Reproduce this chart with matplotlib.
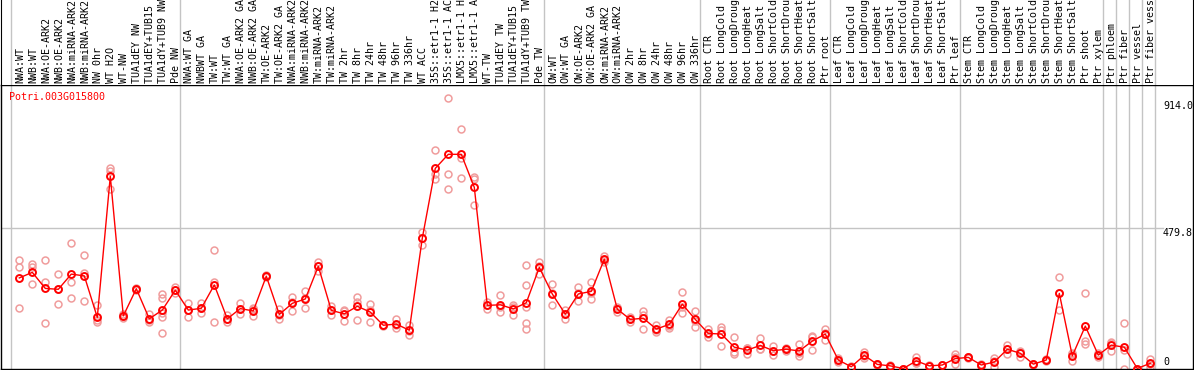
import matplotlib
matplotlib.use("Agg")
import matplotlib.pyplot as plt

labels = [
    "NWA:WT", "NWB:WT", "NWA:OE-ARK2", "NWB:OE-ARK2", "NWA:miRNA-ARK2", "NWB:miRNA-ARK2",
    "NW 0hr", "WT H2O", "WT-NW", "TUA1dEY NW", "TUA1dEY+TUB15 NW", "TUA1dY+TUB9 NW", "Pde NW",
    "NWA:WT GA", "NWBWT GA", "TW:WT", "TW:WT GA", "NWA:OE-ARK2 GA", "NWB:OE-ARK2 GA",
    "TW:OE-ARK2", "TW:OE-ARK2 GA", "NWA:miRNA-ARK2 GA", "NWB:miRNA-ARK2 GA", "TW:miRNA-ARK2",
    "TW:miRNA-ARK2 GA", "TW 2hr", "TW 8hr", "TW 24hr", "TW 48hr", "TW 96hr", "TW 336hr",
    "WT ACC", "35S::etr1-1 H2O", "35S::etr1-1 ACC", "LMX5::etr1-1 H2O", "LMX5::etr1-1 ACC",
    "WT-TW", "TUA1dEY TW", "TUA1dEY+TUB15 TW", "TUA1dY+TUB9 TW", "Pde TW",
    "OW:WT", "OW:WT GA", "OW:OE-ARK2", "OW:OE-ARK2 GA", "OW:miRNA-ARK2", "OW:miRNA-ARK2 GA",
    "OW 2hr", "OW 8hr", "OW 24hr", "OW 48hr", "OW 96hr", "OW 336hr",
    "Root CTR", "Root LongCold", "Root LongDrought", "Root LongHeat", "Root LongSalt",
    "Root ShortCold", "Root ShortDrought", "Root ShortHeat", "Root ShortSalt", "Ptr root",
    "Leaf CTR", "Leaf LongCold", "Leaf LongDrought", "Leaf LongHeat", "Leaf LongSalt",
    "Leaf ShortCold", "Leaf ShortDrought", "Leaf ShortHeat", "Leaf ShortSalt", "Ptr leaf",
    "Stem CTR", "Stem LongCold", "Stem LongDrought", "Stem LongHeat", "Stem LongSalt",
    "Stem ShortCold", "Stem ShortDrought", "Stem ShortHeat", "Stem ShortSalt", "Ptr shoot",
    "Ptr xylem", "Ptr phloem", "Ptr fiber", "Ptr vessel", "Ptr fiber vessel",
]

means = [
    310, 329, 274, 271, 323, 317, 175, 658, 180, 273, 170, 200, 268,
    200, 206, 286, 170, 205, 197, 316, 185, 223, 238, 350, 199, 187, 213, 193, 148, 152, 131,
    446, 685, 733, 733, 620, 216, 218, 204, 225, 346,
    255, 186, 255, 264, 374, 203, 168, 172, 135, 151, 220, 168,
    120, 118, 73, 63, 79, 61, 66, 60, 94, 118,
    29, 6, 45, 14, 9, 0, 26, 9, 12, 34,
    38, 12, 22, 66, 52, 15, 29, 257, 43, 145, 46,
    80, 73, 0, 18,
]

replicates = [
    [372, 346, 206], [357, 348, 288], [371, 296, 156], [322, 221, 271], [429, 296, 240],
    [388, 328, 231], [217, 166, 160], [685, 677, 613], [185, 172, 180], [270, 273, 277],
    [185, 158, 167], [256, 240, 189, 176, 120], [278, 268, 258],
    [225, 175, 200], [223, 189, 206], [405, 297, 158], [182, 160, 168], [225, 185, 205],
    [208, 180, 203], [312, 316, 320], [203, 168, 184], [245, 198, 226], [265, 208, 241],
    [365, 335, 350], [213, 183, 201], [200, 164, 197], [244, 229, 166], [221, 158, 200],
    [145, 150, 149], [170, 138, 148], [149, 115, 129],
    [468, 422, 448], [747, 665, 647], [925, 665, 613], [819, 721, 651], [656, 647, 558],
    [229, 203, 216], [252, 192, 210], [211, 182, 218], [354, 286, 211, 157, 134], [364, 323, 352],
    [289, 216, 260], [200, 170, 188], [278, 230, 257], [295, 237, 260], [386, 365, 371],
    [211, 192, 206], [175, 158, 171], [198, 135, 183], [148, 126, 131], [166, 140, 147],
    [261, 189, 210], [197, 143, 164],
    [134, 107, 119], [143, 132, 76], [107, 57, 49], [69, 50, 70], [103, 66, 68],
    [78, 45, 60], [69, 60, 68], [83, 43, 54], [111, 63, 108], [134, 98, 122],
    [35, 23, 29], [9, 4, 5], [56, 35, 44], [12, 16, 14], [6, 12, 9],
    [0, 0, 0], [40, 18, 20], [11, 7, 9], [13, 11, 12], [48, 15, 39],
    [40, 36, 38], [14, 10, 12], [35, 6, 25], [80, 50, 68], [61, 40, 55],
    [17, 13, 15], [33, 25, 29], [312, 260, 200], [27, 52, 50], [257, 84, 94], [52, 40, 46],
    [92, 60, 88], [155, 0, 64], [0, 0, 0], [34, 4, 16],
]

group_starts = [0, 13, 41, 53, 63, 73, 84, 85, 86, 87, 88]
gene = "Potri.003G015800"
ytick_vals = [914.0, 479.8, 0]

W, H = 1194, 370
fig = plt.figure(figsize=(W / 100, H / 100), dpi=100)

MONO = "DejaVu Sans Mono"
FS = 7.2

xmin = -18.3 / 13.0
xmax = xmin + 1192 / 13.0
k = 0.2922
ymin = -0.5 / k
ymax = ymin + 284 / k

ax = fig.add_axes([1 / W, 1 / H, 1192 / W, 284 / H])
ax.set_xlim(xmin, xmax)
ax.set_ylim(ymin, ymax)
ax.set_xticks([])
ax.set_yticks([])
for s in ax.spines.values():
    s.set_color("black")
    s.set_linewidth(1.0)

grey = "#c4c4c4"
for g in group_starts:
    ax.axvline(g - 0.615, color=grey, lw=1.0, zorder=1)
x_end = xmin + (1163 - 1) / 13.0
ax.plot([xmin, x_end], [479.8, 479.8], color=grey, lw=1.0, zorder=1)

xs = list(range(len(means)))
rx, ry = [], []
for i, reps in enumerate(replicates):
    for v in reps:
        rx.append(i)
        ry.append(v)
ax.plot(rx, ry, linestyle="none", marker="o", ms=5.0, mfc="none",
        mec="#f09c9c", mew=1.1, zorder=2)
ax.plot(xs, means, color="red", lw=1.0, zorder=3)
ax.plot(xs, means, linestyle="none", marker="o", ms=5.0, mfc="none",
        mec="red", mew=1.4, zorder=4)

for v in ytick_vals:
    if v == 0:
        ax.text(x_end, 4, "0", ha="left", va="bottom", family=MONO, fontsize=FS, color="black")
    else:
        ax.text(x_end, v, f"{v:.1f}", ha="left", va="top", family=MONO, fontsize=FS,
                color="black", clip_on=True)

fig.text(9.3 / W, (H - 92.0) / H, gene, ha="left", va="top", family=MONO,
         fontsize=FS, color="red")

hx = fig.add_axes([1 / W, (H - 85) / H, 1192 / W, 85 / H])
hx.set_xlim(xmin, xmax)
hx.set_ylim(0, 1)
hx.set_xticks([])
hx.set_yticks([])
for name, s in hx.spines.items():
    s.set_visible(name in ("left", "right"))
    s.set_color("black")
for g in group_starts:
    hx.axvline(g - 0.615, color=grey, lw=1.0, zorder=1)
for i, lab in enumerate(labels):
    hx.text(i + 0.05, 0.02, lab, rotation=90, ha="center", va="bottom",
            family=MONO, fontsize=FS, color="black", clip_on=True)

fig.savefig("out.png", dpi=100)
